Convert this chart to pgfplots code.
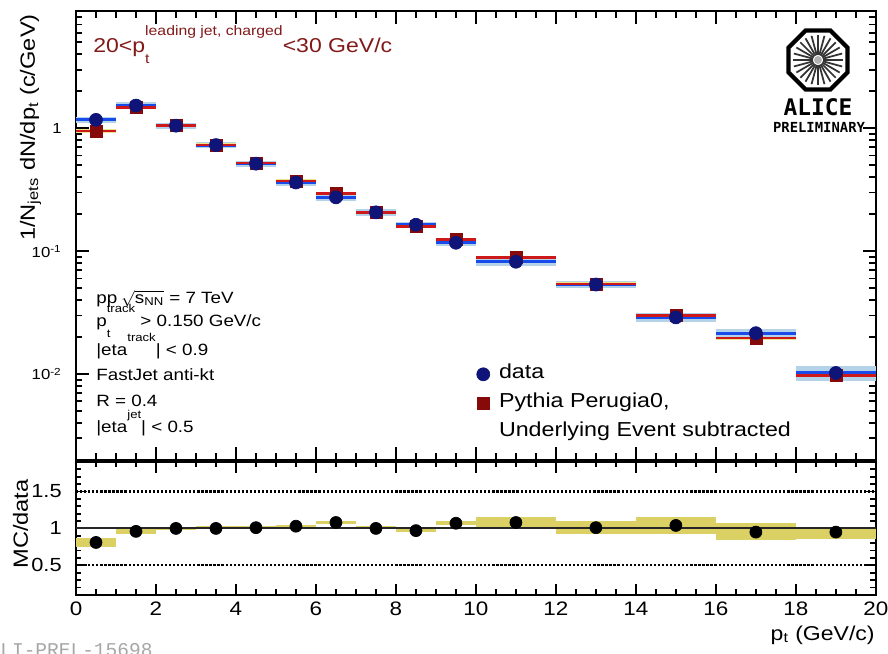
\documentclass[border=0pt]{standalone}
\usepackage{fontspec}
\setmainfont[FakeStretch=1.15]{Liberation Sans}
\newfontfamily\logofont{DejaVu Sans Mono}
\newfontfamily\prelfont{Liberation Mono}
\usepackage{pgfplots}
\pgfplotsset{compat=1.18}

\definecolor{navy}{RGB}{15,20,120}
\definecolor{datablue}{RGB}{25,75,235}
\definecolor{databand}{RGB}{180,210,232}
\definecolor{mcred}{RGB}{135,10,10}
\definecolor{mcline}{RGB}{205,25,25}
\definecolor{mcband}{RGB}{238,228,140}
\definecolor{ratioband}{RGB}{218,208,100}
\definecolor{titlered}{RGB}{130,25,25}

% superscript + subscript stacked on one letter
\newcommand{\supsub}[2]{\rlap{\raisebox{-0.7em}{\fontsize{6.5}{7}\selectfont #2}}\raisebox{0.8em}{\fontsize{6.5}{7}\selectfont #1}}
\newcommand{\sups}[1]{\raisebox{0.8em}{\fontsize{6.5}{7}\selectfont #1}}

\begin{document}
\begin{tikzpicture}
\begin{axis}[
  name=upper, at={(0,0)}, anchor=north west,
  scale only axis, width=16cm, height=8.98cm,
  xmin=0, xmax=20, ymode=log, ymin=0.002, ymax=9,
  xtick={0,2,...,20}, minor x tick num=3, xticklabels={},
  ytick={0.01,0.1,1},
  yticklabels={10\textsuperscript{-2},10\textsuperscript{-1},1},
  minor ytick={0.002,0.003,0.004,0.005,0.006,0.007,0.008,0.009,
               0.02,0.03,0.04,0.05,0.06,0.07,0.08,0.09,
               0.2,0.3,0.4,0.5,0.6,0.7,0.8,0.9,2,3,4,5,6,7,8,9},
  tick align=inside, tick pos=both,
  major tick length=0.26cm, minor tick length=0.13cm,
  axis line style={line width=1.4pt},
  tick style={line width=1pt, black},
  yticklabel style={font=\fontsize{8.3}{9}\selectfont, inner sep=0pt, xshift=-0.28cm},
  legend cell align=left,
  legend style={at={(rel axis cs:0.49,0.215)}, anchor=north west, draw=none, fill=none,
    inner sep=0pt, font=\fontsize{11.5}{13}\selectfont, row sep=0.16cm, column sep=0.15cm,
    nodes={inner sep=1pt, text height=0.75em, text depth=0.25em}},
]
% data systematic bands
\addplot[only marks, mark=none, forget plot, error bars/.cd, y dir=both, y explicit,
  error mark=none, error bar style={line width=0.8cm, draw=databand}]
coordinates {
  (0.5,1.17) +- (0,0.07)
  (1.5,1.53) +- (0,0.092)
  (2.5,1.05) +- (0,0.063)
  (3.5,0.73) +- (0,0.044)
  (4.5,0.515) +- (0,0.031)
  (5.5,0.362) +- (0,0.022)
  (6.5,0.274) +- (0,0.016)
  (7.5,0.207) +- (0,0.012)
  (8.5,0.164) +- (0,0.010)
  (9.5,0.117) +- (0,0.007)
};
\addplot[only marks, mark=none, forget plot, error bars/.cd, y dir=both, y explicit,
  error mark=none, error bar style={line width=1.6cm, draw=databand}]
coordinates {
  (11,0.082) +- (0,0.0057)
  (13,0.0535) +- (0,0.0032)
  (15,0.0289) +- (0,0.0023)
  (17,0.0215) +- (0,0.0019)
  (19,0.0102) +- (0,0.0014)
};
% MC bands
\addplot[only marks, mark=none, forget plot, error bars/.cd, y dir=both, y explicit,
  error mark=none, error bar style={line width=0.8cm, draw=mcband}]
coordinates {
  (0.5,0.95) +- (0,0.028)
  (1.5,1.47) +- (0,0.044)
  (2.5,1.05) +- (0,0.031)
  (3.5,0.73) +- (0,0.022)
  (4.5,0.52) +- (0,0.016)
  (5.5,0.373) +- (0,0.011)
  (6.5,0.296) +- (0,0.009)
  (7.5,0.207) +- (0,0.006)
  (8.5,0.159) +- (0,0.005)
  (9.5,0.125) +- (0,0.004)
};
\addplot[only marks, mark=none, forget plot, error bars/.cd, y dir=both, y explicit,
  error mark=none, error bar style={line width=1.6cm, draw=mcband}]
coordinates {
  (11,0.089) +- (0,0.0027)
  (13,0.054) +- (0,0.0016)
  (15,0.030) +- (0,0.0009)
  (17,0.0196) +- (0,0.0006)
  (19,0.0097) +- (0,0.0003)
};
% data bin lines
\addplot[only marks, mark=none, forget plot, error bars/.cd, x dir=both, x explicit,
  error mark=none, error bar style={line width=1.7pt, draw=datablue}]
coordinates {
  (0.5,1.17) +- (0.5,0)  (1.5,1.53) +- (0.5,0)  (2.5,1.05) +- (0.5,0)
  (3.5,0.73) +- (0.5,0)  (4.5,0.515) +- (0.5,0) (5.5,0.362) +- (0.5,0)
  (6.5,0.274) +- (0.5,0) (7.5,0.207) +- (0.5,0) (8.5,0.164) +- (0.5,0)
  (9.5,0.117) +- (0.5,0) (11,0.082) +- (1,0)    (13,0.0535) +- (1,0)
  (15,0.0289) +- (1,0)   (17,0.0215) +- (1,0)   (19,0.0102) +- (1,0)
};
% MC bin lines
\addplot[only marks, mark=none, forget plot, error bars/.cd, x dir=both, x explicit,
  error mark=none, error bar style={line width=1.5pt, draw=mcline}]
coordinates {
  (0.5,0.95) +- (0.5,0)  (1.5,1.47) +- (0.5,0)  (2.5,1.05) +- (0.5,0)
  (3.5,0.73) +- (0.5,0)  (4.5,0.52) +- (0.5,0)  (5.5,0.373) +- (0.5,0)
  (6.5,0.296) +- (0.5,0) (7.5,0.207) +- (0.5,0) (8.5,0.159) +- (0.5,0)
  (9.5,0.125) +- (0.5,0) (11,0.089) +- (1,0)    (13,0.054) +- (1,0)
  (15,0.030) +- (1,0)    (17,0.0196) +- (1,0)   (19,0.0097) +- (1,0)
};
% MC markers
\addplot[only marks, mark=square*, mark size=0.12cm, mcred, forget plot]
coordinates {
  (0.5,0.95) (1.5,1.47) (2.5,1.05) (3.5,0.73) (4.5,0.52) (5.5,0.373)
  (6.5,0.296) (7.5,0.207) (8.5,0.159) (9.5,0.125) (11,0.089) (13,0.054)
  (15,0.030) (17,0.0196) (19,0.0097)
};
% data markers
\addplot[only marks, mark=*, mark size=0.13cm, navy, forget plot]
coordinates {
  (0.5,1.17) (1.5,1.53) (2.5,1.05) (3.5,0.73) (4.5,0.515) (5.5,0.362)
  (6.5,0.274) (7.5,0.207) (8.5,0.164) (9.5,0.117) (11,0.082) (13,0.0535)
  (15,0.0289) (17,0.0215) (19,0.0102)
};
\addlegendimage{only marks, mark=*, mark size=0.13cm, navy}
\addlegendentry{data}
\addlegendimage{only marks, mark=square*, mark size=0.12cm, mcred}
\addlegendentry{Pythia Perugia0,}
\addlegendimage{empty legend}
\addlegendentry{Underlying Event subtracted}
\end{axis}

\begin{axis}[
  name=lower, at={(0,-9.02cm)}, anchor=north west,
  scale only axis, width=16cm, height=2.66cm,
  xmin=0, xmax=20, ymin=0.1, ymax=1.9,
  xtick={0,2,...,20}, minor x tick num=3,
  ytick={0.5,1,1.5}, minor ytick={0.1,0.2,...,1.9},
  tick align=inside, tick pos=both,
  major tick length=0.22cm, minor tick length=0.11cm,
  axis line style={line width=1.4pt},
  tick style={line width=1pt, black},
  /pgf/number format/assume math mode=true,
  xticklabel style={font=\fontsize{11.1}{12}\selectfont, inner sep=0pt, yshift=-0.14cm},
  yticklabel style={font=\fontsize{10.8}{12}\selectfont, inner sep=0pt, xshift=-0.28cm},
]
% MC uncertainty boxes on the ratio
\addplot[only marks, mark=none, error bars/.cd, y dir=both, y explicit,
  error mark=none, error bar style={line width=0.8cm, draw=ratioband}]
coordinates {
  (0.5,0.81) +- (0,0.065) (1.5,0.96) +- (0,0.03)  (2.5,1.00) +- (0,0.018)
  (3.5,1.01) +- (0,0.018) (4.5,1.02) +- (0,0.018) (5.5,1.03) +- (0,0.018)
  (6.5,1.08) +- (0,0.025) (7.5,1.01) +- (0,0.018) (8.5,0.97) +- (0,0.025)
  (9.5,1.07) +- (0,0.03)
};
\addplot[only marks, mark=none, error bars/.cd, y dir=both, y explicit,
  error mark=none, error bar style={line width=1.6cm, draw=ratioband}]
coordinates {
  (11,1.07) +- (0,0.08) (13,1.01) +- (0,0.085) (15,1.04) +- (0,0.11)
  (17,0.955) +- (0,0.115) (19,0.93) +- (0,0.08)
};
\addplot[black!85, line width=1.1pt] coordinates {(0,1) (20,1)};
\addplot[black, densely dotted, line width=1.3pt] coordinates {(0,1.5) (20,1.5)};
\addplot[black, densely dotted, line width=1.3pt] coordinates {(0,0.5) (20,0.5)};
\addplot[only marks, mark=*, mark size=0.12cm, black]
coordinates {
  (0.5,0.81) (1.5,0.96) (2.5,1.00) (3.5,1.00) (4.5,1.01) (5.5,1.03)
  (6.5,1.08) (7.5,1.00) (8.5,0.97) (9.5,1.07) (11,1.08) (13,1.01)
  (15,1.04) (17,0.95) (19,0.95)
};
\end{axis}

% texts and logo, in pixel units of the 888x653 reference
\begin{scope}[x=0.02cm, y=-0.02cm, shift={(-76,-11)}]
\node[titlered, anchor=base west, inner sep=0pt, font=\fontsize{11.4}{13}\selectfont] at (93,52)
  {20<p\rlap{\raisebox{-0.55em}{\fontsize{7.8}{9}\selectfont t}}\raisebox{0.8em}{\fontsize{7.8}{9}\selectfont leading jet, charged}<30 GeV/c};
\begin{scope}[every node/.style={anchor=base west, inner sep=0pt, font=\fontsize{9.3}{11}\selectfont}]
\node at (96,303) {pp\hspace{0.25em}$\sqrt{\mbox{s}_{\mbox{\fontsize{6.5}{7}\selectfont NN}}}$ = 7 TeV};
\node at (96,326) {p\supsub{track}{t} > 0.150 GeV/c};
\node at (96,355) {|eta\sups{track}| < 0.9};
\node at (96,380) {FastJet anti-kt};
\node at (96,406) {R = 0.4};
\node at (96,432) {|eta\sups{jet}| < 0.5};
\end{scope}
% axis titles
\node[rotate=90, anchor=base east, inner sep=0pt, font=\fontsize{11.7}{13}\selectfont] at (35,14)
  {1/N\textsubscript{jets} dN/dp\textsubscript{t} (c/GeV)};
\node[rotate=90, anchor=base, inner sep=0pt, font=\fontsize{11.7}{13}\selectfont] at (28,524) {MC/data};
\node[anchor=base east, inner sep=0pt, font=\fontsize{11.4}{13}\selectfont] at (875,640)
  {p\textsubscript{t} (GeV/c)};
% ALICE logo
\draw[line width=0.085cm, shift={(818,60)}] (22.5:32) -- (67.5:32) -- (112.5:32) -- (157.5:32)
  -- (202.5:32) -- (247.5:32) -- (292.5:32) -- (337.5:32) -- cycle;
\foreach \a in {0,15,...,345}
  \draw[line width=0.035cm, black!80] (818,60) ++(\a:5) -- ++(\a:20);
\fill[gray!60] (818,60) circle (4);
\node[font=\logofont\bfseries\fontsize{13}{14}\selectfont, inner sep=0pt] at (818,107) {ALICE};
\node[font=\logofont\bfseries\fontsize{7.9}{9}\selectfont, inner sep=0pt] at (819,127) {PRELIMINARY};
\node[gray!70, anchor=base west, inner sep=0pt, font=\prelfont\fontsize{11.1}{12}\selectfont] at (-11.7,656) {ALI-PREL-15698};
\pgfresetboundingbox
\path[use as bounding box] (0,0) rectangle (888,653);
\end{scope}
\end{tikzpicture}
\end{document}
